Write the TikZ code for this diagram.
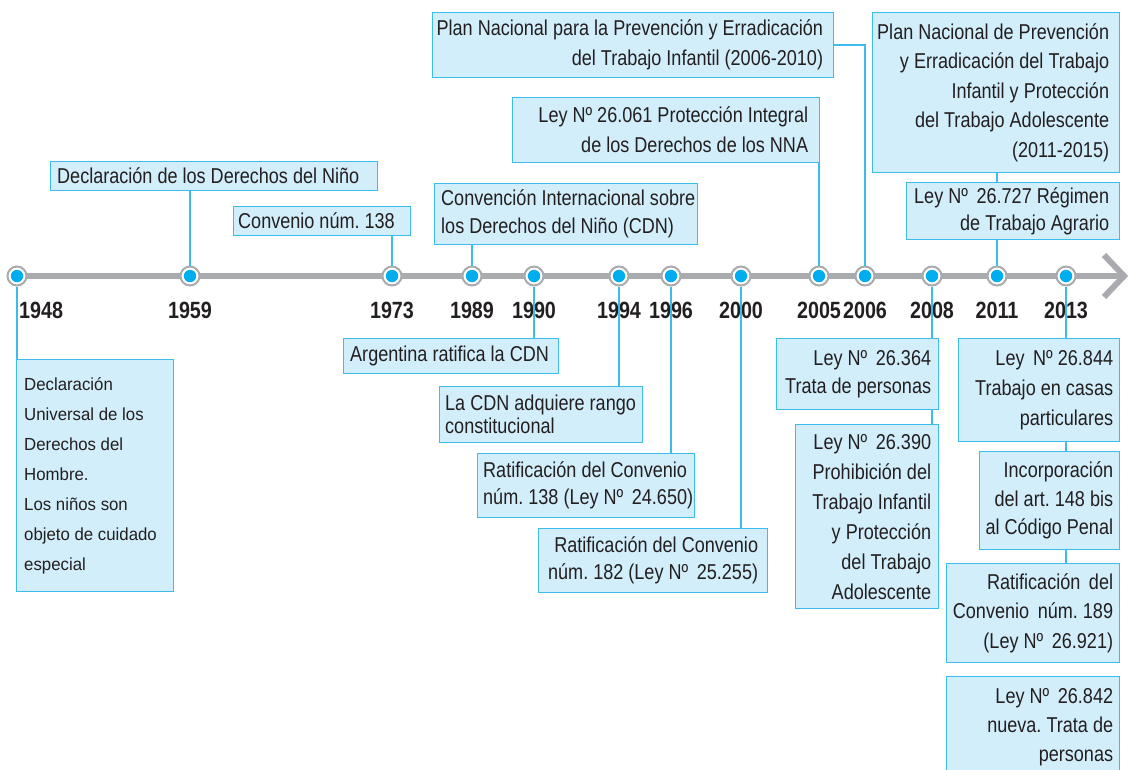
\documentclass[tikz,border=0pt]{standalone}
\usepackage{fontspec}
\setmainfont{Liberation Sans}[FakeStretch=0.84]
\newfontfamily\notefont{Liberation Sans}[FakeStretch=0.96]
\definecolor{boxfill}{HTML}{D2EEFB}
\definecolor{boxline}{HTML}{3CBCEB}
\definecolor{dotblue}{HTML}{00AEEF}
\definecolor{axis}{HTML}{A9ABAE}
\definecolor{ink}{HTML}{231F20}
\frenchspacing
\begin{document}
\begin{tikzpicture}[x=1pt,y=-1pt,
  frame/.style={draw=boxline, fill=boxfill, line width=1.3pt, inner sep=0pt, anchor=north west},
  txt/.style={inner sep=0pt, text=ink, font=\fontsize{21.5}{#1}\selectfont},
  txt/.default=28,
  tr/.style={txt=#1, anchor=east, align=right},
  tr/.default=28,
  tl/.style={txt=#1, anchor=west, align=left},
  tl/.default=28,
  conn/.style={draw=boxline, line width=1.4pt},
  dot/.style={circle, draw=axis, fill=white, line width=2pt, minimum size=19pt, inner sep=0pt,
    path picture={\fill[dotblue] (path picture bounding box.center) circle (6.2pt);}},
  yearlbl/.style={anchor=base, text=ink, inner sep=0pt, font=\fontsize{23.5}{26}\selectfont\bfseries}
]
\useasboundingbox (0,0) rectangle (1130,769);

% axis with open chevron tip
\coordinate (tip) at (1124,276);
\draw[axis, line width=6pt] (17,276) -- (1120,276);
\draw[axis, line width=6pt, miter limit=10] (1104,255) -- (tip) -- (1104,297);

% year markers
\foreach \yr/\px in {1948/17,1959/190,1973/392,1989/472,1990/534,1994/619,1996/671,
    2000/741,2005/819,2006/865,2008/932,2011/997,2013/1066}
  \node[dot] (d\yr) at (\px,276) {};
\foreach \yr/\px in {1959/190,1973/392,1989/472,1990/534,1994/619,1996/671,
    2000/741,2005/819,2006/865,2008/932,2011/997,2013/1066}
  \node[yearlbl] (y\yr) at (\px,318) {\yr};
\node[yearlbl, anchor=base west] (y1948) at (19,318) {1948};

% events above the axis
\node[frame, minimum width=327pt, minimum height=29pt] (b1959) at (50,161) {};
\node[tl] (t1959) at ([xshift=7pt]b1959.west) {Declaración de los Derechos del Niño};

\node[frame, minimum width=177pt, minimum height=29pt] (b1973) at (233,206) {};
\node[tl] (t1973) at ([xshift=5pt]b1973.west) {Convenio núm. 138};

\node[frame, minimum width=263pt, minimum height=61pt] (b1989) at (434,183) {};
\node[tl=28] (t1989) at ([xshift=7pt]b1989.west) {Convención Internacional sobre\\los Derechos del Niño (CDN)};

\node[frame, minimum width=401pt, minimum height=65pt] (b2006) at (432,12) {};
\node[tr=30] (t2006) at ([xshift=-11pt]b2006.east) {Plan Nacional para la Prevención y Erradicación\\del Trabajo Infantil (2006-2010)};

\node[frame, minimum width=307pt, minimum height=65pt] (b2005) at (512,97) {};
\node[tr=30] (t2005) at ([xshift=-12pt]b2005.east) {Ley Nº 26.061 Protección Integral\\de los Derechos de los NNA};

\node[frame, minimum width=247pt, minimum height=160pt] (b2011a) at (872,12) {};
\node[tr=29.5] (t2011a) at ([xshift=-11pt]b2011a.east) {Plan Nacional de Prevención\\y Erradicación del Trabajo\\Infantil y Protección\\del Trabajo Adolescente\\(2011-2015)};

\node[frame, minimum width=213pt, minimum height=57pt] (b2011b) at (906,182) {};
\node[tr=27] (t2011b) at ([xshift=-11pt]b2011b.east) {Ley Nº\, 26.727 Régimen\\de Trabajo Agrario};

% events below the axis
\node[frame, minimum width=157pt, minimum height=232pt] (b1948) at (16,359) {};
\node[anchor=west, align=left, inner sep=0pt, text=ink, font=\notefont\fontsize{17.5}{30}\selectfont]
  (t1948) at ([xshift=8pt]b1948.west)
  {Declaración\\Universal de los\\Derechos del\\Hombre.\\Los niños son\\objeto de cuidado\\especial};

\node[frame, minimum width=215pt, minimum height=35pt] (b1990) at (343,338) {};
\node[tl] (t1990) at ([xshift=7pt]b1990.west) {Argentina ratifica la CDN};

\node[frame, minimum width=203pt, minimum height=56pt] (b1994) at (439,386) {};
\node[tl=23] (t1994) at ([xshift=6pt]b1994.west) {La CDN adquiere rango\\constitucional};

\node[frame, minimum width=217pt, minimum height=64pt] (b1996) at (477,453) {};
\node[tl=27] (t1996) at ([xshift=6pt]b1996.west) {Ratificación del Convenio\\núm. 138 (Ley Nº\, 24.650)};

\node[frame, minimum width=229pt, minimum height=64pt] (b2000) at (538,528) {};
\node[tr=27] (t2000) at ([xshift=-10pt]b2000.east) {Ratificación del Convenio\\núm. 182 (Ley Nº\, 25.255)};

\node[frame, minimum width=162pt, minimum height=71pt] (b2008a) at (776,338) {};
\node[tr=28] (t2008a) at ([xshift=-8pt]b2008a.east) {Ley Nº\, 26.364\\Trata de personas};

\node[frame, minimum width=143pt, minimum height=184pt] (b2008b) at (795,424) {};
\node[tr=30] (t2008b) at ([xshift=-8pt]b2008b.east) {Ley Nº\, 26.390\\Prohibición del\\Trabajo Infantil\\y Protección\\del Trabajo\\Adolescente};

\node[frame, minimum width=161pt, minimum height=103pt] (b2013a) at (958,338) {};
\node[tr=30] (t2013a) at ([xshift=-7pt]b2013a.east) {Ley\, Nº 26.844\\Trabajo en casas\\particulares};

\node[frame, minimum width=140pt, minimum height=98pt] (b2013b) at (979,451) {};
\node[tr=28.5] (t2013b) at ([xshift=-7pt]b2013b.east) {Incorporación\\del art. 148 bis\\al Código Penal};

\node[frame, minimum width=173pt, minimum height=99pt] (b2013c) at (946,563) {};
\node[tr=29.5] (t2013c) at ([xshift=-7pt]b2013c.east) {Ratificación\, del\\Convenio\, núm. 189\\(Ley Nº\, 26.921)};

\node[frame, minimum width=173pt, minimum height=102pt] (b2013d) at (946,676) {};
\node[tr=29] (t2013d) at ([xshift=-7pt]b2013d.east) {Ley Nº\, 26.842\\nueva. Trata de\\personas};

% connectors, above the axis
\draw[conn] (d1959 |- b1959.south) -- (d1959.north);
\draw[conn] (d1973 |- b1973.south) -- (d1973.north);
\draw[conn] (d1989 |- b1989.south) -- (d1989.north);
\draw[conn] (d2005 |- b2005.south) -- (d2005.north);
\draw[conn] (b2006.east) -- (d2006 |- b2006.east) -- (d2006.north);
\draw[conn] (d2011 |- b2011a.south) -- (d2011 |- b2011b.north);
\draw[conn] (d2011 |- b2011b.south) -- (d2011.north);

% connectors, below the axis
\draw[conn] (d1948.south) -- (d1948 |- b1948.north);
\draw[conn] (d1990.south) -- (d1990 |- b1990.north);
\draw[conn] (d1994.south) -- (d1994 |- b1994.north);
\draw[conn] (d1996.south) -- (d1996 |- b1996.north);
\draw[conn] (d2000.south) -- (d2000 |- b2000.north);
\draw[conn] (d2008.south) -- (d2008 |- b2008a.north);
\draw[conn] (d2008 |- b2008a.south) -- (d2008 |- b2008b.north);
\draw[conn] (d2013.south) -- (d2013 |- b2013a.north);
\draw[conn] (d2013 |- b2013a.south) -- (d2013 |- b2013b.north);
\draw[conn] (d2013 |- b2013b.south) -- (d2013 |- b2013c.north);
\end{tikzpicture}
\end{document}
